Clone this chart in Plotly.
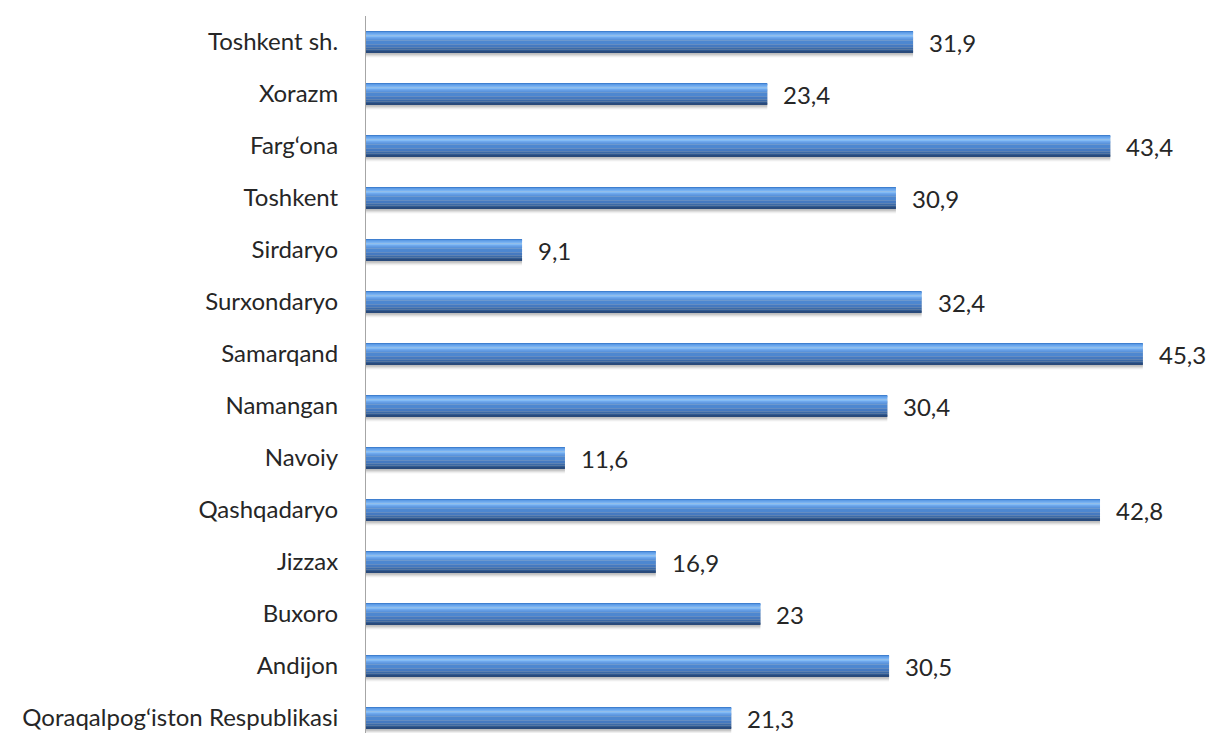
import plotly.graph_objects as go

# Regions, listed bottom to top as they appear on the category axis
regions = [
    "Qoraqalpog‘iston Respublikasi", "Andijon", "Buxoro", "Jizzax", "Qashqadaryo",
    "Navoiy", "Namangan", "Samarqand", "Surxondaryo", "Sirdaryo", "Toshkent",
    "Farg‘ona", "Xorazm", "Toshkent sh.",
]
values = [21.3, 30.5, 23, 16.9, 42.8, 11.6, 30.4, 45.3, 32.4, 9.1, 30.9, 43.4, 23.4, 31.9]
value_labels = [f"{v:g}".replace(".", ",") for v in values]

PX = 52.0          # pixels per category step
BAR_H = 21.0       # bar thickness in pixels
half = BAR_H / 2 / PX
FONT = "Lato, Carlito, sans-serif"

fig = go.Figure()

# soft drop shadow beneath each bar
for dy, alpha in [(5, 0.04), (4, 0.06), (3, 0.08), (2, 0.10)]:
    fig.add_trace(go.Bar(
        y=regions, x=values, orientation="h",
        width=BAR_H / PX, offset=-half - dy / PX,
        marker=dict(color=f"rgba(0,0,0,{alpha})", line=dict(width=0)),
        hoverinfo="skip", showlegend=False,
    ))

# cylinder-like shading, drawn as horizontal bands from top to bottom (pixel rows)
bands = [
    (0, 1, "#3f7fcf"),
    (1, 2, "#5c9be6"),
    (2, 4, "#78b2f2"),
    (4, 6, "#82bbf5"),
    (6, 7, "#6ea7ec"),
    (7, 9, "#5a94dc"),
    (9, 13, "#4d87d0"),
    (13, 16, "#4579c0"),
    (16, 18, "#3b6aa8"),
    (18, 20, "#305a92"),
    (20, 21, "#294a7b"),
]
for top, bot, col in bands:
    fig.add_trace(go.Bar(
        y=regions, x=values, orientation="h",
        width=(bot - top) / PX, offset=half - bot / PX,
        marker=dict(color=col, line=dict(width=0)),
        hoverinfo="skip", showlegend=False,
    ))

# value labels to the right of each bar
for name, v, lab in zip(regions, values, value_labels):
    fig.add_annotation(
        x=v, y=name, text=lab, showarrow=False,
        xanchor="left", xshift=14,
        font=dict(family=FONT, size=24, color="#262626"),
    )

fig.update_layout(
    width=1211, height=733,
    margin=dict(l=366, r=0, t=16, b=0),
    barmode="overlay",
    paper_bgcolor="white", plot_bgcolor="white",
    showlegend=False,
    font=dict(family=FONT, size=24, color="#262626"),
)
fig.update_xaxes(
    range=[0, 845 / 17.15], visible=False, showgrid=False, zeroline=False,
)
fig.update_yaxes(
    type="category", categoryorder="array", categoryarray=regions,
    range=[13.5 - 717 / PX, 13.5],
    showline=True, linecolor="#a6a6a6", linewidth=1,
    showgrid=False, zeroline=False, ticks="", ticklabelstandoff=22,
    tickfont=dict(family=FONT, size=24, color="#262626"),
)

fig.write_html("out.html")
